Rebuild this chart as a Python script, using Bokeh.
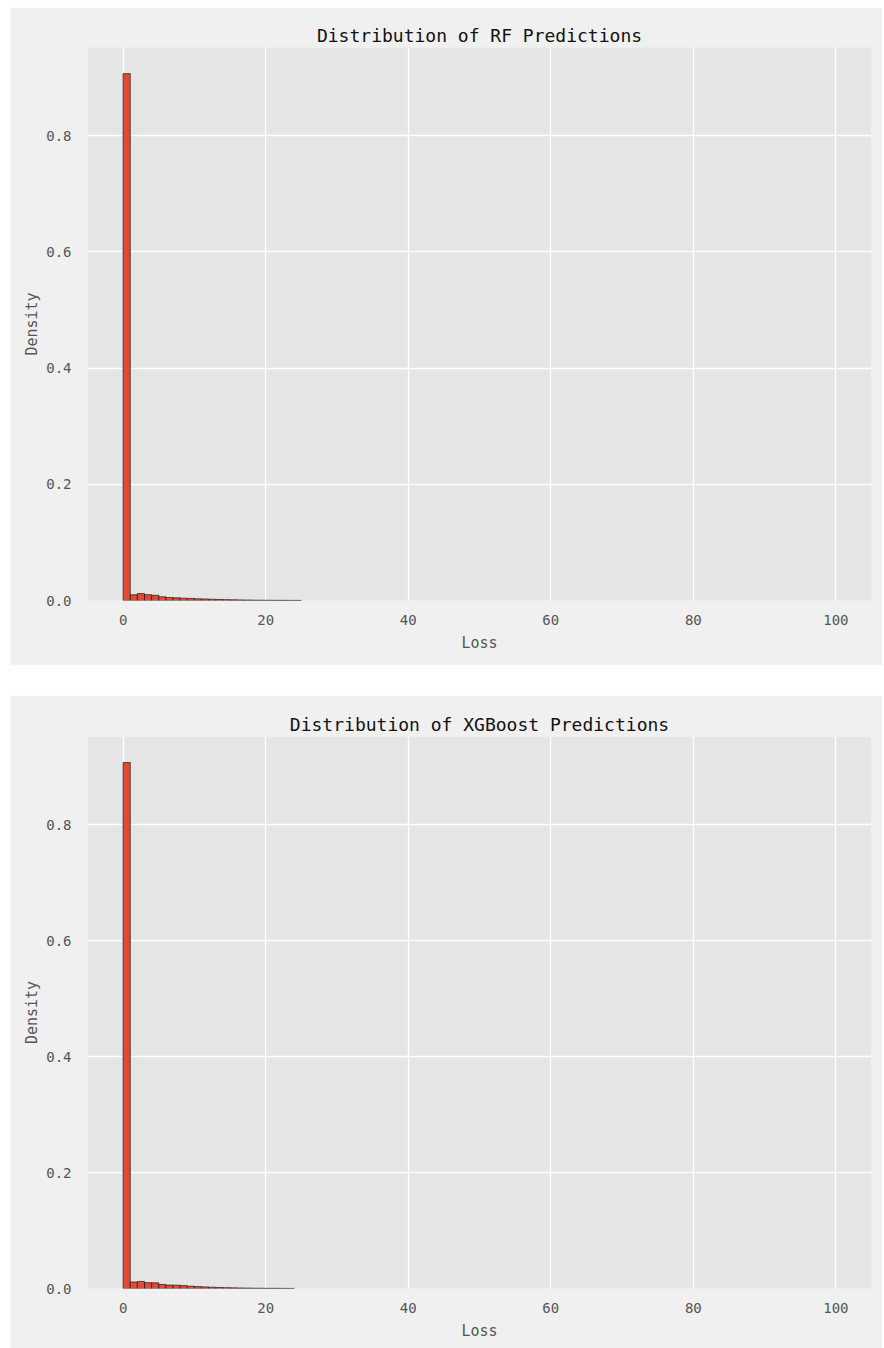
from bokeh.plotting import figure
from bokeh.models import Range1d, FixedTicker, Spacer, NumeralTickFormatter
from bokeh.layouts import column, row
from bokeh.embed import file_html
from bokeh.resources import INLINE

# ---- data (density per unit-width bin, bins start at 0) ----
rf_density = [0.907, 0.0098, 0.0120, 0.0100, 0.0090, 0.0064, 0.0052, 0.0046, 0.0040, 0.0035,
              0.0030, 0.0026, 0.0022, 0.0018, 0.0015, 0.0012, 0.0010, 0.0008, 0.0006, 0.0005,
              0.0004, 0.0003, 0.00025, 0.0002, 0.00015]
xgb_density = [0.907, 0.0112, 0.0122, 0.0100, 0.0098, 0.0070, 0.0060, 0.0058, 0.0050, 0.0040,
               0.0033, 0.0028, 0.0022, 0.0018, 0.0014, 0.0011, 0.0009, 0.0007, 0.0005, 0.0004,
               0.0003, 0.00025, 0.0002, 0.00015]
titles = ["Distribution of RF Predictions", "Distribution of XGBoost Predictions"]
x_ticks = [0, 20, 40, 60, 80, 100]
y_ticks = [0.0, 0.2, 0.4, 0.6, 0.8]
x_label = "Loss"
y_label = "Density"

FONT = "DejaVu Sans Mono"


def make(title, dens, height, top_b, bot_b):
    p = figure(width=872, height=height, output_backend="svg", toolbar_location=None,
               x_range=Range1d(-5, 105), y_range=Range1d(0, 0.952),
               min_border_left=77, min_border_right=11,
               min_border_top=top_b, min_border_bottom=bot_b)
    p.title.text = title
    p.title.text_font = FONT
    p.title.text_font_size = "18px"
    p.title.text_font_style = "normal"
    p.title.align = "center"
    p.title.text_color = "#111111"
    p.title.standoff = 4
    p.background_fill_color = "#e5e5e5"
    p.border_fill_color = "#f0f0f0"
    p.outline_line_color = None
    lefts = list(range(len(dens)))
    rights = [l + 1 for l in lefts]
    p.quad(left=lefts, right=rights, bottom=0, top=dens,
           fill_color="#E24A33", line_color="#1a1a1a", line_width=0.7)
    for ax in (p.xaxis[0], p.yaxis[0]):
        ax.axis_line_color = None
        ax.major_tick_line_color = None
        ax.minor_tick_line_color = None
        ax.major_label_text_font = FONT
        ax.major_label_text_font_size = "14px"
        ax.major_label_text_color = "#555555"
        ax.axis_label_text_font = FONT
        ax.axis_label_text_font_size = "15px"
        ax.axis_label_text_font_style = "normal"
        ax.axis_label_text_color = "#555555"
    p.xaxis.ticker = FixedTicker(ticks=x_ticks)
    p.yaxis.ticker = FixedTicker(ticks=y_ticks)
    p.yaxis.formatter = NumeralTickFormatter(format="0.0")
    p.xaxis.major_label_standoff = 8
    p.yaxis.major_label_standoff = 10
    p.xaxis.axis_label = x_label
    p.yaxis.axis_label = y_label
    p.xaxis.axis_label_standoff = 6
    p.yaxis.axis_label_standoff = 2
    p.grid.grid_line_color = "white"
    p.grid.grid_line_width = 1.4
    return p


p1 = make(titles[0], rf_density, 658, 40, 65)
p2 = make(titles[1], xgb_density, 653, 41, 60)

layout = row(Spacer(width=10),
             column(Spacer(height=7), p1, Spacer(height=30), p2, spacing=0),
             spacing=0)

open("out.html", "w").write(file_html(layout, INLINE))
